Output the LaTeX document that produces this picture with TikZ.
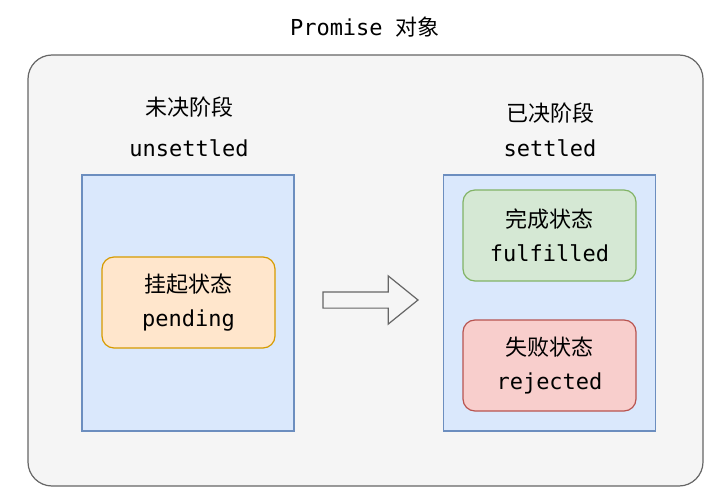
\documentclass[tikz,border=0pt]{standalone}
\usepackage{fontspec}
\setmonofont{DejaVu Sans Mono}
\newfontfamily\cjk{Noto Sans CJK SC}
\usetikzlibrary{shapes.arrows}
\definecolor{outerfill}{HTML}{F5F5F5}
\definecolor{outerdraw}{HTML}{666666}
\definecolor{bluefill}{HTML}{DAE8FC}
\definecolor{bluedraw}{HTML}{6C8EBF}
\definecolor{orfill}{HTML}{FFE6CC}
\definecolor{ordraw}{HTML}{D79B00}
\definecolor{grfill}{HTML}{D5E8D4}
\definecolor{grdraw}{HTML}{82B366}
\definecolor{rdfill}{HTML}{F8CECC}
\definecolor{rddraw}{HTML}{B85450}
\tikzset{
  txt/.style={font=\fontsize{22}{33}\selectfont, align=center, inner sep=0pt},
  phase/.style={draw=bluedraw, fill=bluefill, line width=1.2pt, minimum width=212pt, minimum height=256pt, inner sep=0pt},
  state/.style={rounded corners=12pt, line width=1.2pt, minimum width=173pt, minimum height=91pt, inner sep=0pt, align=center, font=\fontsize{22}{34}\selectfont},
}
\begin{document}
\begin{tikzpicture}[x=1pt,y=-1pt]
\useasboundingbox (0,0) rectangle (721,500);
\node[txt] (title) at (365,27) {\ttfamily Promise \cjk 对象};
\node[draw=outerdraw, fill=outerfill, rounded corners=24pt, line width=1.2pt, minimum width=675pt, minimum height=431pt, inner sep=0pt] (outer) at (365.5,270.5) {};
\node[txt] (ulab) at (189,107) {\cjk 未决阶段};
\node[txt] (uen) at (189,148) {\ttfamily unsettled};
\node[phase] (left) at (188,303) {};
\node[state, draw=ordraw, fill=orfill] (pending) at (188.5,302.5) {\raisebox{-2pt}{\cjk 挂起状态}\\\raisebox{-2pt}{\ttfamily pending}};
\node[single arrow, draw=outerdraw, fill=outerfill, line width=1.2pt, minimum height=95pt, minimum width=47pt, inner sep=7.5pt, single arrow head extend=16pt, single arrow tip angle=78] (arr) at (365.5,300) {};
\node[txt] (slab) at (550,113) {\cjk 已决阶段};
\node[txt] (sen) at (550,148) {\ttfamily settled};
\node[phase] (right) at (549.5,303) {};
\node[state, draw=grdraw, fill=grfill] (ful) at (549.5,235.5) {\raisebox{-2pt}{\cjk 完成状态}\\\raisebox{-2pt}{\ttfamily fulfilled}};
\node[state, draw=rddraw, fill=rdfill] (rej) at (549.5,365.5) {\raisebox{-2pt}{\cjk 失败状态}\\\raisebox{-2pt}{\ttfamily rejected}};
\end{tikzpicture}
\end{document}
